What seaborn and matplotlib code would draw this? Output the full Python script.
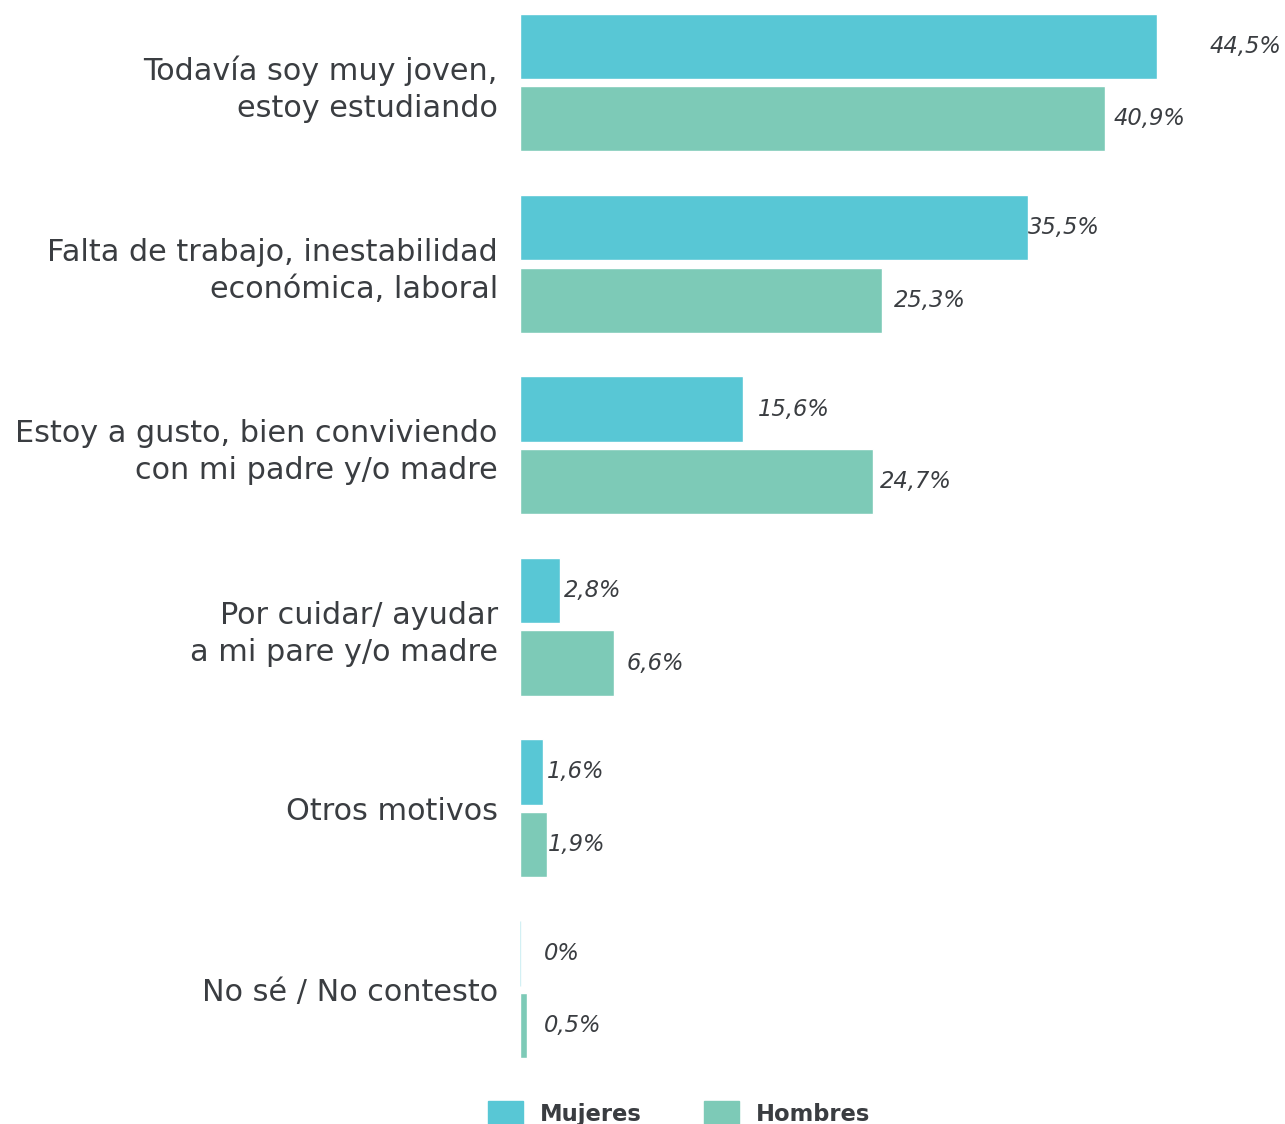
import matplotlib
matplotlib.use("Agg")
import matplotlib.pyplot as plt
import seaborn as sns
import pandas as pd

categories = [
    "Todavía soy muy joven,\nestoy estudiando",
    "Falta de trabajo, inestabilidad\neconómica, laboral",
    "Estoy a gusto, bien conviviendo\ncon mi padre y/o madre",
    "Por cuidar/ ayudar\na mi pare y/o madre",
    "Otros motivos",
    "No sé / No contesto",
]
mujeres = [44.5, 35.5, 15.6, 2.8, 1.6, 0.0]
hombres = [40.9, 25.3, 24.7, 6.6, 1.9, 0.5]
mujeres_lbl = ["44,5%", "35,5%", "15,6%", "2,8%", "1,6%", "0%"]
hombres_lbl = ["40,9%", "25,3%", "24,7%", "6,6%", "1,9%", "0,5%"]
series = ["Mujeres", "Hombres"]

# label offsets in pixels (style only)
off_muj = [53, 0, 15, 4, 4, 24]
off_hom = [8, 12, 6, 12, 1, 17]

colors = {"Mujeres": "#58C7D5", "Hombres": "#7DCAB7"}
txt = "#3a3d41"

df = pd.DataFrame({
    "motivo": categories * 2,
    "sexo": ["Mujeres"] * 6 + ["Hombres"] * 6,
    "valor": mujeres + hombres,
})

sns.set_style("white")
plt.rcParams["font.family"] = ["DejaVu Sans"]

W, H = 1285, 1124
fig = plt.figure(figsize=(W / 100, H / 100), dpi=100)
ax = fig.add_axes([520 / W, (H - 1075) / H, (W - 520) / W, 1075 / H])

sns.barplot(data=df, y="motivo", x="valor", hue="sexo", order=categories,
            hue_order=series, palette=colors, orient="h", width=0.8, gap=0.1,
            ax=ax, legend=False, saturation=1)

ax.set_xlim(0, (W - 520) / 14.31)
ax.set_ylim(5.471, -0.455)
sns.despine(ax=ax, left=True, bottom=True)
ax.set_xticks([])
ax.set_xlabel("")
ax.set_ylabel("")
ax.tick_params(axis="y", length=0, pad=16)
for t in ax.get_yticklabels():
    t.set_fontsize(21.8)
    t.set_color(txt)
    t.set_horizontalalignment("right")
    t.set_multialignment("right")
    t.set_linespacing(1.35)

for cont, labels, offs in zip(ax.containers, [mujeres_lbl, hombres_lbl], [off_muj, off_hom]):
    for p, lab, o in zip(cont.patches, labels, offs):
        if p.get_width() == 0:
            p.set_edgecolor("#d3f0f4")
            p.set_linewidth(1)
        ax.annotate(lab, (p.get_width(), p.get_y() + p.get_height() / 2),
                    xytext=(o * 0.72, 0), textcoords="offset points",
                    ha="left", va="center", fontsize=16.3, fontstyle="italic",
                    fontweight="light", color=txt)

handles = [plt.Rectangle((0, 0), 1, 1, color=colors[s]) for s in series]
leg = fig.legend(handles, series, loc="lower center", bbox_to_anchor=(679 / W, -0.02),
                 ncol=2, frameon=False, handlelength=1.55, handleheight=1.35,
                 handletextpad=0.75, columnspacing=2.75, prop={"size": 16.3, "weight": "bold"})
for t in leg.get_texts():
    t.set_color(txt)

fig.savefig("out.png", dpi=100)
